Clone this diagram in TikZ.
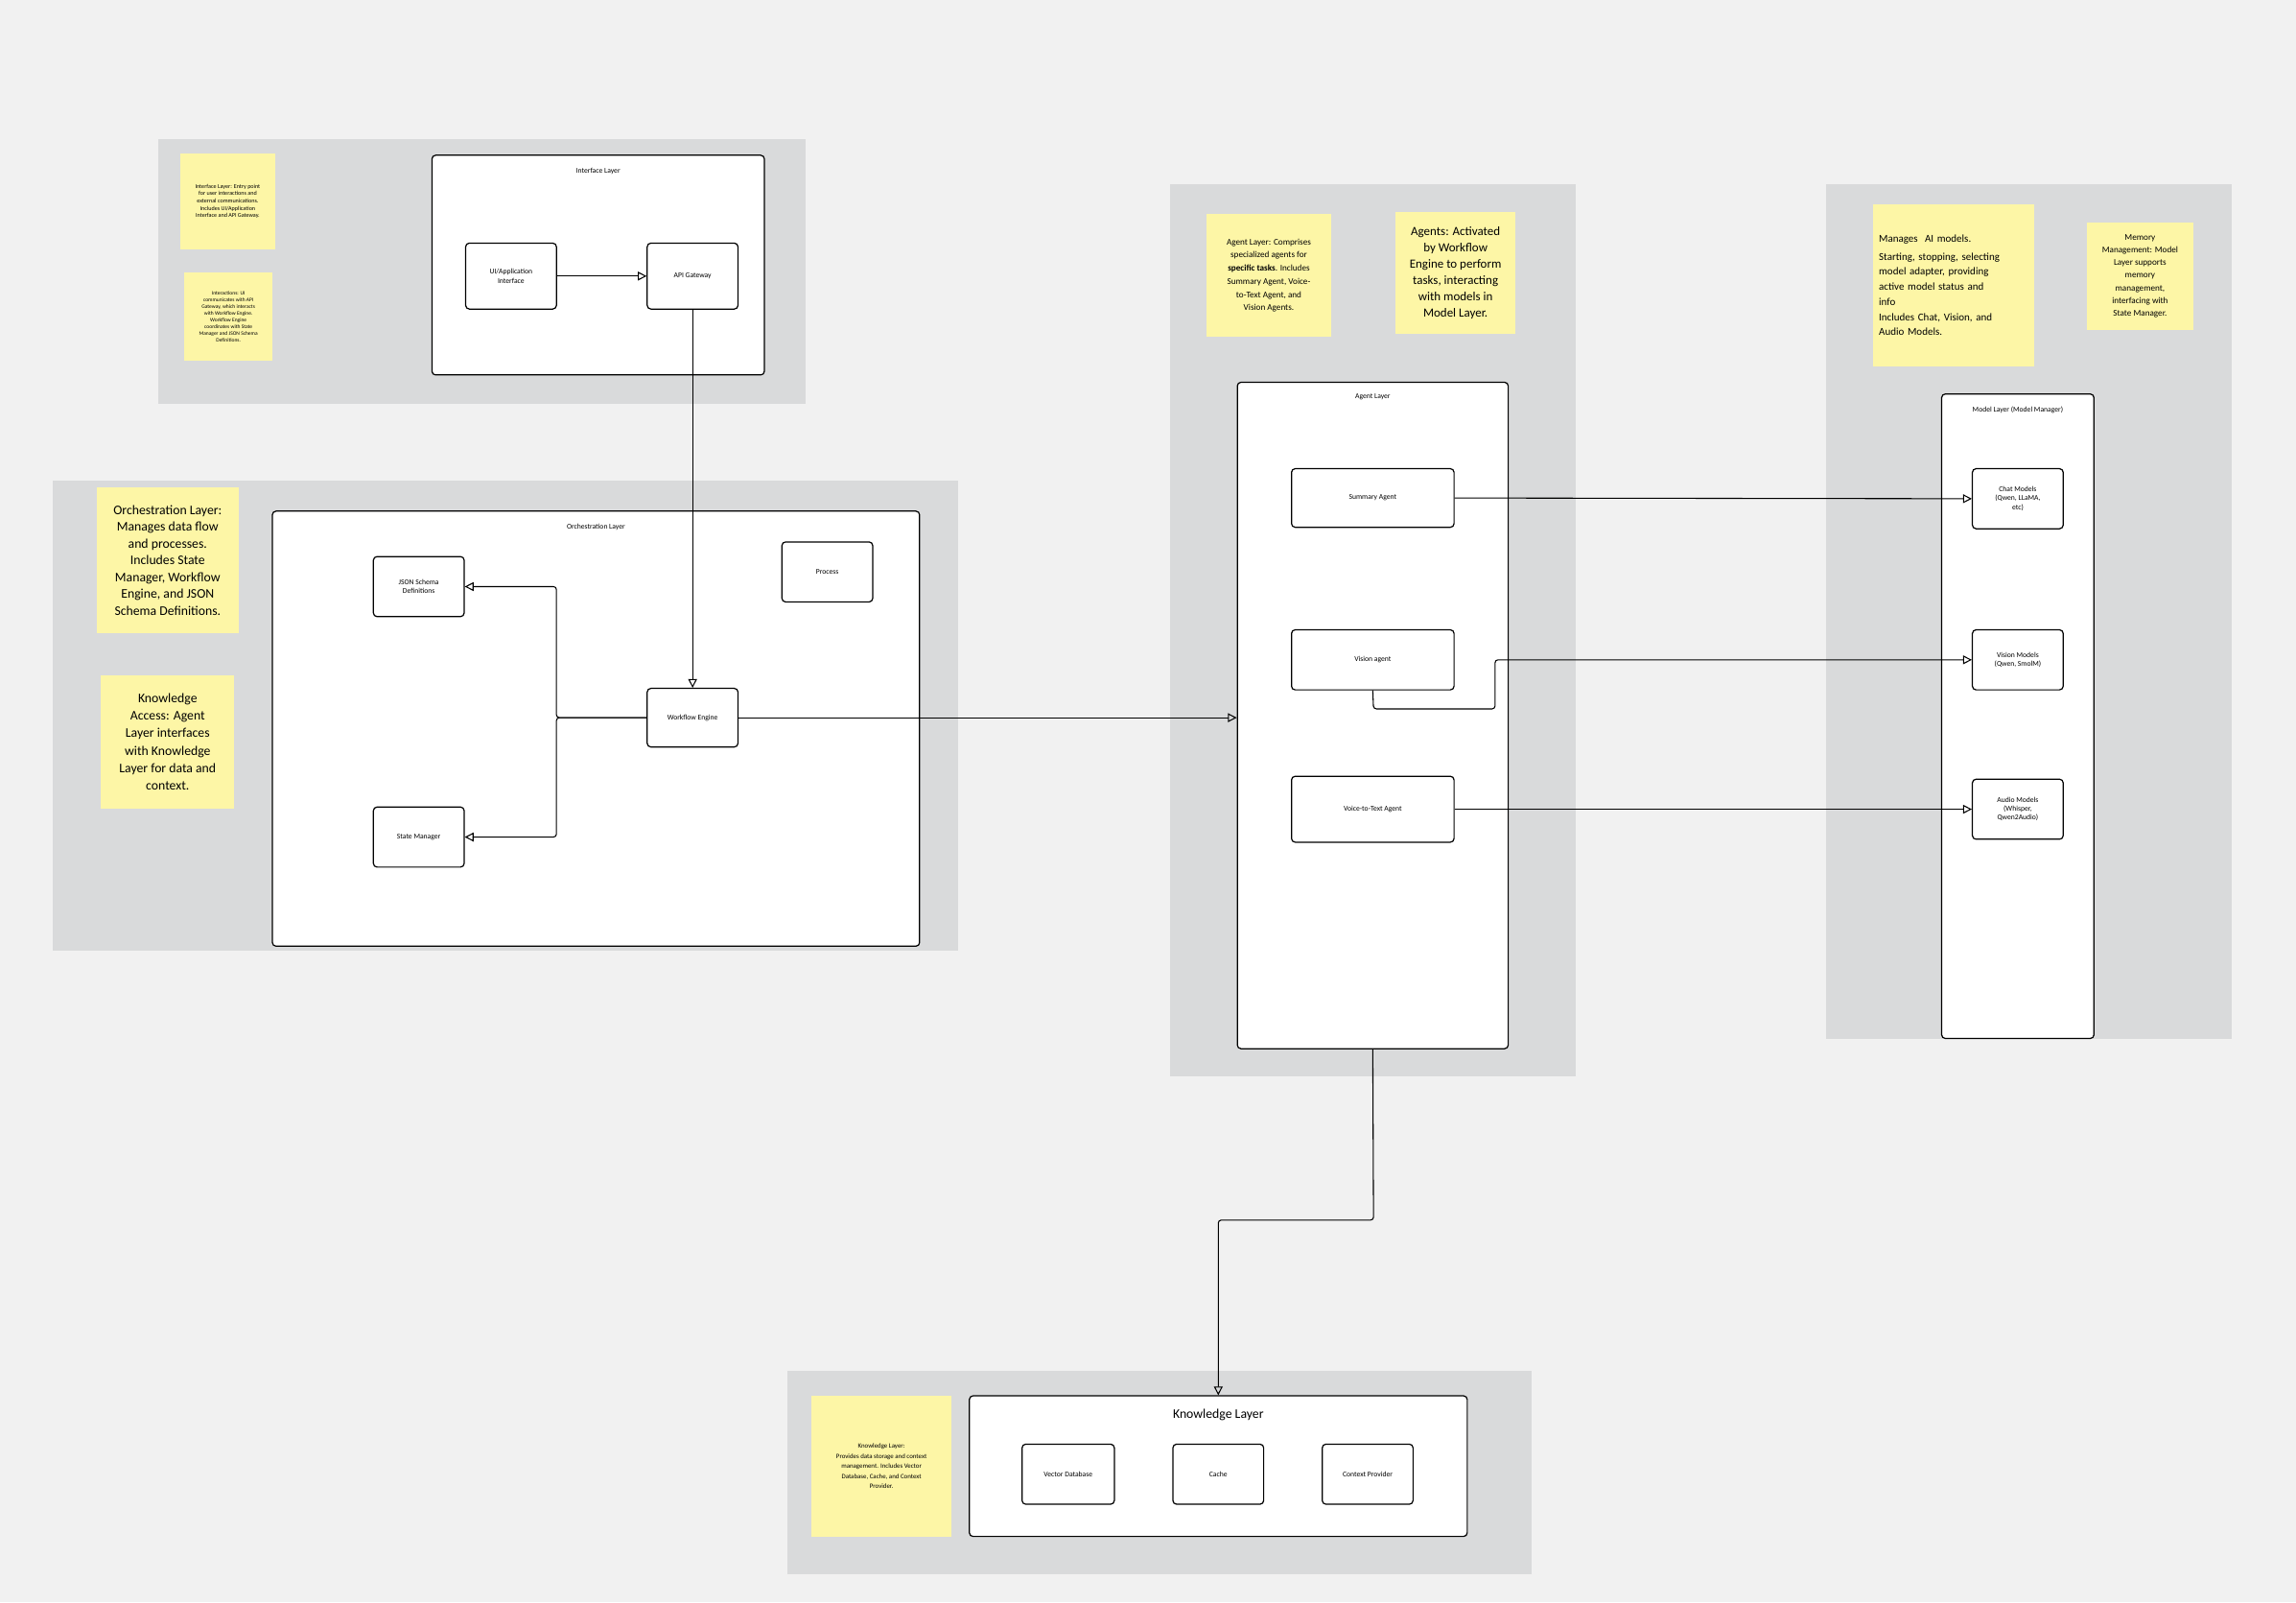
\documentclass[tikz,border=0pt]{standalone}
\usepackage{fontspec}
\setmainfont{Carlito}
\usetikzlibrary{arrows.meta}
\definecolor{bgc}{HTML}{F1F1F1}
\definecolor{panel}{HTML}{D9DADB}
\definecolor{sticky}{HTML}{FDF6A6}
\tikzset{
  panelbox/.style={fill=panel,draw=none},
  frame/.style={draw=black,fill=white,rounded corners=2.5pt,line width=0.8pt},
  box/.style={draw=black,fill=white,rounded corners=2.5pt,line width=0.8pt,align=center,font=\fontsize{5}{6}\selectfont,inner sep=1pt},
  note/.style={fill=sticky,draw=none,align=center,inner sep=2pt},
  conn/.style={line width=0.7pt,-{Triangle[open,length=6pt,width=6pt]},rounded corners=2pt},
  title/.style={font=\fontsize{5}{6}\selectfont}
}
\begin{document}
\begin{tikzpicture}[x=1pt,y=-1pt]
\useasboundingbox (0,0) rectangle (1568,1094);
\fill[bgc] (0,0) rectangle (1568,1094);
% panels
\fill[panel] (108,95) rectangle (550,276);
\fill[panel] (36,328) rectangle (654,649);
\fill[panel] (799,126) rectangle (1076,735);
\fill[panel] (1247,126) rectangle (1524,709);
\fill[panel] (538,936) rectangle (1046,1075);
% frames
\node[frame,minimum width=227pt,minimum height=150pt] (iframe) at (408.5,181) {};
\node[title] at (408.5,117) {Interface Layer};
\node[frame,minimum width=442pt,minimum height=297pt] (oframe) at (407,497.5) {};
\node[title] at (407,360) {Orchestration Layer};
\node[frame,minimum width=185pt,minimum height=455pt] (aframe) at (937.5,488.5) {};
\node[title] at (937.5,271) {Agent Layer};
\node[frame,minimum width=104pt,minimum height=440pt] (mframe) at (1378,489) {};
\node[title] at (1378,280) {Model Layer (Model Manager)};
\node[frame,minimum width=340pt,minimum height=96pt] (kframe) at (832,1001) {};
\node[font=\fontsize{9}{11}\selectfont] at (832,966) {Knowledge Layer};
% boxes
\node[box,minimum width=62pt,minimum height=45pt] (ui) at (349,188.5) {UI/Application\\Interface};
\node[box,minimum width=62pt,minimum height=45pt] (api) at (473,188.5) {API Gateway};
\node[box,minimum width=62pt,minimum height=41pt] (json) at (286,400.5) {JSON Schema\\Definitions};
\node[box,minimum width=62pt,minimum height=41pt] (proc) at (565,390.5) {Process};
\node[box,minimum width=62pt,minimum height=40pt] (wf) at (473,490) {Workflow Engine};
\node[box,minimum width=62pt,minimum height=41pt] (sm) at (286,571.5) {State Manager};
\node[box,minimum width=111pt,minimum height=40pt] (sa) at (937.5,340) {Summary Agent};
\node[box,minimum width=111pt,minimum height=41pt] (va) at (937.5,450.5) {Vision agent};
\node[box,minimum width=111pt,minimum height=45pt] (vt) at (937.5,552.5) {Voice-to-Text Agent};
\node[box,minimum width=62pt,minimum height=41pt] (cm) at (1378,340.5) {Chat Models\\(Qwen, LLaMA,\\etc)};
\node[box,minimum width=62pt,minimum height=41pt] (vm) at (1378,450.5) {Vision Models\\(Qwen, SmolM)};
\node[box,minimum width=62pt,minimum height=41pt] (am) at (1378,552.5) {Audio Models\\(Whisper,\\Qwen2Audio)};
\node[box,minimum width=63pt,minimum height=41pt] (vdb) at (729.5,1006.5) {Vector Database};
\node[box,minimum width=62pt,minimum height=41pt] (cache) at (832,1006.5) {Cache};
\node[box,minimum width=62pt,minimum height=41pt] (ctx) at (934,1006.5) {Context Provider};
% sticky notes
\node[note,minimum width=65pt,minimum height=65pt,font=\fontsize{4}{5}\selectfont] (n1) at (155.5,137.5) {Interface Layer: Entry point\\for user interactions and\\external communications.\\Includes UI/Application\\Interface and API Gateway.};
\node[note,minimum width=60pt,minimum height=60pt,font=\fontsize{3.6}{4.6}\selectfont] (n2) at (156,216) {Interactions: UI\\communicates with API\\Gateway, which interacts\\with Workflow Engine.\\Workflow Engine\\coordinates with State\\Manager and JSON Schema\\Definitions.};
\node[note,minimum width=97pt,minimum height=99pt,font=\fontsize{9}{11.5}\selectfont] (n3) at (114.5,382.5) {Orchestration Layer:\\Manages data flow\\and processes.\\Includes State\\Manager, Workflow\\Engine, and JSON\\Schema Definitions.};
\node[note,minimum width=91pt,minimum height=91pt,font=\fontsize{9}{12}\selectfont] (n4) at (114.5,506.5) {Knowledge\\Access: Agent\\Layer interfaces\\with Knowledge\\Layer for data and\\context.};
\node[note,minimum width=85pt,minimum height=84pt,font=\fontsize{6}{9}\selectfont] (n5) at (866.5,188) {Agent Layer: Comprises\\specialized agents for\\\textbf{specific tasks}. Includes\\Summary Agent, Voice-\\to-Text Agent, and\\Vision Agents.};
\node[note,minimum width=82pt,minimum height=83pt,font=\fontsize{8.5}{11.2}\selectfont] (n6) at (994,186.5) {Agents: Activated\\by Workflow\\Engine to perform\\tasks, interacting\\with models in\\Model Layer.};
\node[note,minimum width=110pt,minimum height=111pt,font=\fontsize{7.2}{10.3}\selectfont,align=left,anchor=north west,text width=102pt] (n7) at (1279,139) {\vspace{2pt}Manages\ \ AI models.\\Starting, stopping, selecting\\model adapter, providing\\active model status and\\info\\Includes Chat, Vision, and\\Audio Models.};
\node[note,minimum width=73pt,minimum height=73pt,font=\fontsize{6}{8.6}\selectfont] (n8) at (1461.5,188.5) {Memory\\Management: Model\\Layer supports\\memory\\management,\\interfacing with\\State Manager.};
\node[note,minimum width=96pt,minimum height=96pt,font=\fontsize{4.5}{6.8}\selectfont] (n9) at (602,1001) {Knowledge Layer:\\Provides data storage and context\\management. Includes Vector\\Database, Cache, and Context\\Provider.};
% connectors
\draw[conn] (ui) -- (api);
\draw[conn] (api) -- (wf);
\coordinate (jn) at (380,490);
\draw[conn] (wf.west) -- (jn) |- (json.east);
\draw[conn] (wf.west) -- (jn) |- (sm.east);
\draw[conn] (wf.east) -- (aframe.west |- wf.east);
\draw[conn] (sa.east) -- (cm.west);
\coordinate (v1) at (938,484);
\coordinate (v2) at (1021,484);
\draw[conn] (va.south) -- (v1) -- (v2) |- (vm.west);
\draw[conn] (vt.east) -- (am.west);
\coordinate (k1) at (938,833);
\coordinate (k2) at (832,833);
\draw[conn] (aframe.south) -- (k1) -- (k2) -- (kframe.north);
\end{tikzpicture}
\end{document}
